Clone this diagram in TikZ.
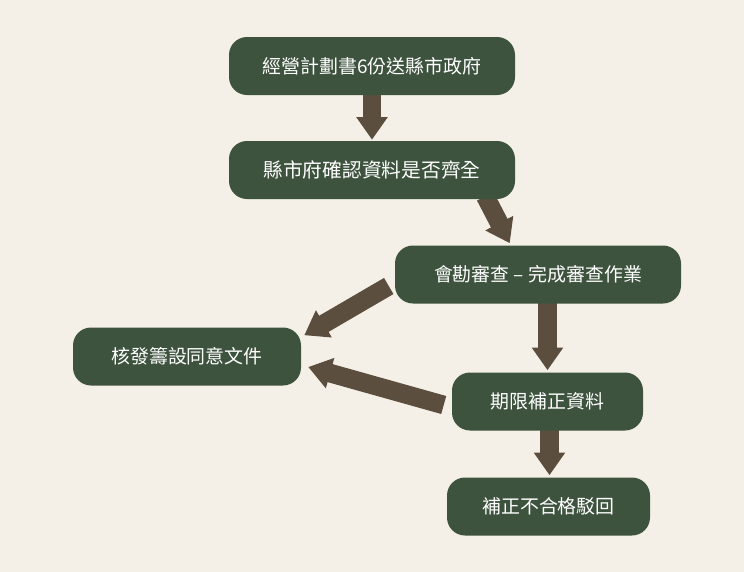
\documentclass[tikz,border=0pt]{standalone}
\usepackage{fontspec}
\newfontfamily\cjk{Noto Sans CJK TC}
\usetikzlibrary{arrows.meta,calc}
\definecolor{bgc}{RGB}{245,240,231}
\definecolor{boxc}{RGB}{61,83,62}
\definecolor{arrc}{RGB}{91,78,62}
\pgfdeclarelayer{back}
\pgfdeclarelayer{arrowlayer}
\pgfsetlayers{back,arrowlayer,main}
\tikzset{
  box/.style={shape=rectangle, rounded corners=13.5pt, fill=boxc, text=white,
    inner sep=0pt, minimum height=43.5pt, font=\cjk\fontsize{14.2pt}{17pt}\selectfont},
  blockarrow/.style={draw=arrc, line width=14pt,
    -{Triangle[width=22.5pt,length=17pt,fill=arrc]}, shorten <=0pt}
}
\begin{document}
\begin{tikzpicture}[x=0.75pt,y=-0.75pt]
\begin{pgfonlayer}{back}
\fill[bgc] (0,0) rectangle (744,572);
\end{pgfonlayer}
\useasboundingbox (0,0) rectangle (744,572);
\node[box, minimum width=214.5pt] (n1) at (372,66) {經營計劃書6份送縣市政府};
\node[box, minimum width=214.5pt, font=\cjk\fontsize{14.8pt}{18pt}\selectfont] (n2) at (372,170) {縣市府確認資料是否齊全};
\node[box, minimum width=214.5pt] (n3) at (538,274.5) {會勘審查 – 完成審查作業};
\node[box, minimum width=171pt] (n4) at (187,356.5) {核發籌設同意文件};
\node[box, minimum width=143.25pt] (n5) at (547.5,401.5) {期限補正資料};
\node[box, minimum width=152.25pt] (n6) at (548.5,506.5) {補正不合格駁回};
\begin{pgfonlayer}{arrowlayer}
\draw[blockarrow] (n1.south) -- ($(n2.north)+(0,-1)$);
\draw[blockarrow] ($(n2.south east)+(-30,-3)$) -- ($(n3.north west)+(115,-2)$);
\draw[blockarrow] ($(n3.west)+(-6,11.5)$) -- ($(n4.north east)+(3,8)$);
\draw[blockarrow] ($(n3.south -| n5.north)+(0,-2)$) -- ($(n5.north)+(0,-2)$);
\draw[blockarrow] ($(n5.west)+(-8,3.5)$) -- ($(n4.east)+(7,10.5)$);
\draw[blockarrow] ($(n5.south)+(2,-2)$) -- ($(n6.north)+(1,-2)$);
\end{pgfonlayer}
\end{tikzpicture}
\end{document}
